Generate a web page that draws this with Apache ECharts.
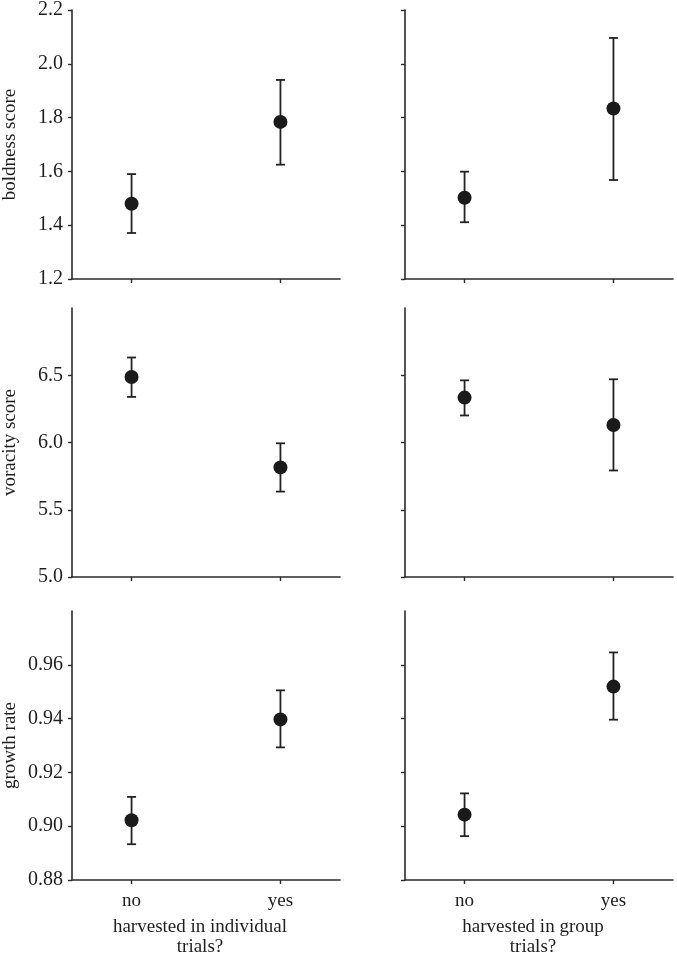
<!DOCTYPE html>
<html>
<head>
<meta charset="utf-8">
<script src="https://cdn.jsdelivr.net/npm/echarts@6/dist/echarts.min.js"></script>
<style>
html,body{margin:0;padding:0;background:#fff;}
#chart{width:677px;height:960px;}
</style>
</head>
<body>
<div id="chart"></div>
<script>
// ---- data ----
var categories = ['no', 'yes'];
var categoryPos = [1, 2];

var boldnessIndMean = [1.480, 1.784];
var boldnessIndLow  = [1.371, 1.625];
var boldnessIndHigh = [1.590, 1.940];
var boldnessGrpMean = [1.502, 1.834];
var boldnessGrpLow  = [1.411, 1.568];
var boldnessGrpHigh = [1.599, 2.096];

var voracityIndMean = [6.487, 5.815];
var voracityIndLow  = [6.339, 5.635];
var voracityIndHigh = [6.632, 5.994];
var voracityGrpMean = [6.334, 6.130];
var voracityGrpLow  = [6.201, 5.792];
var voracityGrpHigh = [6.462, 6.470];

var growthIndMean = [0.9022, 0.9397];
var growthIndLow  = [0.8933, 0.9293];
var growthIndHigh = [0.9109, 0.9505];
var growthGrpMean = [0.9043, 0.9519];
var growthGrpLow  = [0.8963, 0.9396];
var growthGrpHigh = [0.9122, 0.9646];

var boldnessTicks = [1.2, 1.4, 1.6, 1.8, 2.0, 2.2];
var voracityTicks = [5.0, 5.5, 6.0, 6.5];
var growthTicks   = [0.88, 0.90, 0.92, 0.94, 0.96];

var rowNames = ['boldness score', 'voracity score', 'growth rate'];
var colTitles = ['harvested in individual\ntrials?', 'harvested in group\ntrials?'];

// ---- layout ----
var FONT = 'Liberation Serif';
var TXT = '#1e1e1e';
var AX = '#2a2a2a';
var rows = [
  {top: 10, height: 269, min: 1.2, max: 2.2, ticks: boldnessTicks, dec: 1,
   panels: [[boldnessIndMean, boldnessIndLow, boldnessIndHigh], [boldnessGrpMean, boldnessGrpLow, boldnessGrpHigh]]},
  {top: 308, height: 269, min: 5.0, max: 7.0, ticks: voracityTicks, dec: 1,
   panels: [[voracityIndMean, voracityIndLow, voracityIndHigh], [voracityGrpMean, voracityGrpLow, voracityGrpHigh]]},
  {top: 611, height: 269, min: 0.88, max: 0.98, ticks: growthTicks, dec: 2,
   panels: [[growthIndMean, growthIndLow, growthIndHigh], [growthGrpMean, growthGrpLow, growthGrpHigh]]}
];
var cols = [{left: 72, width: 268}, {left: 405, width: 268}];

var grids = [], xAxes = [], yAxes = [], series = [];
var idx = 0;
rows.forEach(function (r, ri) {
  cols.forEach(function (c, ci) {
    grids.push({left: c.left, top: r.top, width: c.width, height: r.height});
    var bottomRow = ri === rows.length - 1;
    xAxes.push({
      type: 'value', gridIndex: idx, min: 0.6, max: 2.4,
      splitLine: {show: false},
      axisLine: {show: true, lineStyle: {color: AX, width: 1.6}},
      axisTick: {show: true, customValues: categoryPos, length: 4, inside: false, lineStyle: {color: AX, width: 1.4}},
      axisLabel: {show: bottomRow, customValues: categoryPos, margin: 12,
        fontFamily: FONT, fontSize: 19, color: TXT,
        formatter: function (v) { var i = categoryPos.indexOf(v); return i >= 0 ? categories[i] : ''; }},
      name: bottomRow ? colTitles[ci] : '',
      nameLocation: 'middle', nameGap: 37,
      nameTextStyle: {fontFamily: FONT, fontSize: 19, color: TXT, lineHeight: 20, padding: [0, 12, 0, 0]}
    });
    yAxes.push({
      type: 'value', gridIndex: idx, min: r.min, max: r.max,
      splitLine: {show: false},
      axisLine: {show: true, lineStyle: {color: AX, width: 1.6}},
      axisTick: {show: true, customValues: r.ticks, length: 4, lineStyle: {color: AX, width: 1.4}},
      axisLabel: {show: ci === 0, customValues: r.ticks, margin: 9,
        fontFamily: FONT, fontSize: 20, color: TXT,
        formatter: (function (d) { return function (v) { return v.toFixed(d); }; })(r.dec)},
      name: ci === 0 ? rowNames[ri] : '',
      nameLocation: 'middle', nameGap: 52,
      nameTextStyle: {fontFamily: FONT, fontSize: 19, color: TXT}
    });
    var p = r.panels[ci];
    var errData = categoryPos.map(function (x, k) { return [x, p[1][k], p[2][k]]; });
    var meanData = categoryPos.map(function (x, k) { return [x, p[0][k]]; });
    series.push({
      type: 'custom', xAxisIndex: idx, yAxisIndex: idx, z: 2,
      renderItem: function (params, api) {
        var lo = api.coord([api.value(0), api.value(1)]);
        var hi = api.coord([api.value(0), api.value(2)]);
        var hw = 4.5;
        var st = {stroke: '#222', lineWidth: 1.8};
        return {type: 'group', children: [
          {type: 'line', shape: {x1: lo[0], y1: lo[1], x2: hi[0], y2: hi[1]}, style: st},
          {type: 'line', shape: {x1: lo[0] - hw, y1: lo[1], x2: lo[0] + hw, y2: lo[1]}, style: st},
          {type: 'line', shape: {x1: hi[0] - hw, y1: hi[1], x2: hi[0] + hw, y2: hi[1]}, style: st}
        ]};
      },
      encode: {x: 0, y: [1, 2]},
      data: errData, silent: true
    });
    series.push({
      type: 'scatter', xAxisIndex: idx, yAxisIndex: idx, z: 3,
      symbol: 'circle', symbolSize: 14,
      itemStyle: {color: '#1a1a1a', opacity: 1},
      data: meanData, silent: true
    });
    idx++;
  });
});

var chart = echarts.init(document.getElementById('chart'), null, {renderer: 'canvas'});
chart.setOption({
  animation: false,
  backgroundColor: '#fff',
  grid: grids, xAxis: xAxes, yAxis: yAxes, series: series
});
</script>
</body>
</html>
